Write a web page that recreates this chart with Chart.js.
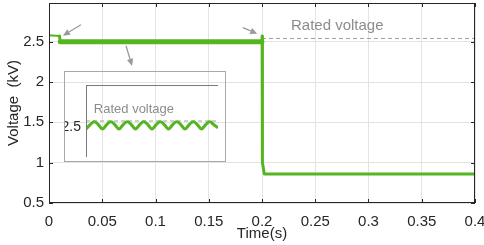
<!DOCTYPE html>
<html>
<head>
<meta charset="utf-8">
<script src="https://cdn.jsdelivr.net/npm/chart.js@4/dist/chart.umd.min.js"></script>
<style>
  html, body { margin: 0; padding: 0; background: #fff; }
  #wrap { position: relative; width: 484px; height: 245px; }
  #main { position: absolute; left: 0; top: 0; }
  #insetBox { position: absolute; left: 64px; top: 71px; width: 162px; height: 91px;
              border: 1px solid #a8a8a8; box-sizing: border-box; }
  #inset { position: absolute; left: 0; top: 0; }
</style>
</head>
<body>
<div id="wrap">
  <canvas id="main" width="484" height="245"></canvas>
  <div id="insetBox"><canvas id="inset" width="160" height="89"></canvas></div>
</div>
<script>
/* Voltage step: ~2.5 kV rated until 0.2 s, then drops to ~0.86 kV. Inset = ripple around 2.5 kV. */
const timeS   = [0, 0.0098, 0.0106, 0.1999, 0.2001, 0.2004, 0.2022, 0.4];
const voltKV  = [2.58, 2.57, 2.50, 2.50, 2.57, 1.00, 0.86, 0.86];
const ratedT  = [0.2, 0.4];
const ratedKV = [2.54, 2.54];
const xTicks  = [0, 0.05, 0.1, 0.15, 0.2, 0.25, 0.3, 0.35, 0.4];
const yTicks  = [0.5, 1, 1.5, 2, 2.5];

// inset: ripple samples (index axis) + rated level
const rippleKV = [2.487, 2.515, 2.535, 2.515, 2.487, 2.515, 2.535, 2.515, 2.487, 2.515, 2.535,
                  2.515, 2.487, 2.515, 2.535, 2.515, 2.487, 2.515, 2.535, 2.515, 2.487, 2.515,
                  2.535, 2.515, 2.487, 2.515, 2.535, 2.515, 2.487, 2.515, 2.535, 2.515, 2.495];
const insetRated = [2.54, 2.54];
const insetYTicks = [2.5];

const GREEN = "#55b521";
const INK = "#262626";
const GREY_TXT = "#8c8c8c";
const FONT = "'Liberation Sans', Arial, sans-serif";

// annotation arrows, in data coordinates [t, kV]
const ARROWS = [
  { from: [0.0300, 2.71], to: [0.0131, 2.575] },
  { from: [0.0723, 2.45], to: [0.0780, 2.20] },
  { from: [0.1820, 2.675], to: [0.1955, 2.60] },
];

const pts = (xs, ys) => xs.map((x, i) => ({ x, y: ys[i] }));
const noPad = s => { s.paddingLeft = 0; s.paddingRight = 0; s.paddingTop = 0; s.paddingBottom = 0; };

function seg(ctx, x1, y1, x2, y2) { ctx.beginPath(); ctx.moveTo(x1, y1); ctx.lineTo(x2, y2); ctx.stroke(); }

const frame = {
  id: "frame",
  afterDatasetsDraw(chart) {
    const { ctx, chartArea: a, scales: { x, y } } = chart;
    ctx.save();
    ctx.strokeStyle = INK; ctx.lineWidth = 1;
    ctx.strokeRect(a.left + 0.5, a.top + 0.5, a.right - a.left - 1, a.bottom - a.top - 1);
    xTicks.forEach(v => {
      const px = Math.round(x.getPixelForValue(v)) + 0.5;
      seg(ctx, px, a.top, px, a.top + 4); seg(ctx, px, a.bottom, px, a.bottom - 4);
    });
    yTicks.forEach(v => {
      const py = Math.round(y.getPixelForValue(v)) + 0.5;
      seg(ctx, a.left, py, a.left + 4, py); seg(ctx, a.right, py, a.right - 4, py);
    });
    // annotations
    ctx.fillStyle = GREY_TXT;
    ctx.font = "15px " + FONT;
    ctx.textBaseline = "middle"; ctx.textAlign = "left";
    ctx.fillText("Rated voltage", x.getPixelForValue(0.2272), y.getPixelForValue(2.70));
    ctx.strokeStyle = "#9a9a9a"; ctx.fillStyle = "#9a9a9a"; ctx.lineWidth = 1.3;
    ARROWS.forEach(ar => {
      const x1 = x.getPixelForValue(ar.from[0]), y1 = y.getPixelForValue(ar.from[1]);
      const x2 = x.getPixelForValue(ar.to[0]), y2 = y.getPixelForValue(ar.to[1]);
      const ang = Math.atan2(y2 - y1, x2 - x1), L = 7, W = 3.2;
      const bx = x2 - L * Math.cos(ang), by = y2 - L * Math.sin(ang);
      seg(ctx, x1, y1, bx, by);
      ctx.beginPath();
      ctx.moveTo(x2, y2);
      ctx.lineTo(bx + W * Math.sin(ang), by - W * Math.cos(ang));
      ctx.lineTo(bx - W * Math.sin(ang), by + W * Math.cos(ang));
      ctx.closePath(); ctx.fill();
    });
    ctx.restore();
  },
};

new Chart(document.getElementById("main"), {
  type: "line",
  data: {
    datasets: [
      { data: pts(timeS, voltKV), borderColor: GREEN, borderWidth: 3, pointRadius: 0,
        borderJoinStyle: "round", borderCapStyle: "round",
        segment: { borderWidth: c => c.p0DataIndex === 0 ? 2 : c.p0DataIndex === 2 ? 5 : 3 } },
      { data: pts(ratedT, ratedKV), borderColor: "#a0a0a0", borderWidth: 1, borderDash: [4, 3], pointRadius: 0 },
    ],
  },
  options: {
    responsive: false, animation: false,
    layout: { padding: { left: 0, right: 9, top: 3, bottom: 0 } },
    plugins: { legend: { display: false }, tooltip: { enabled: false } },
    scales: {
      x: {
        type: "linear", min: 0, max: 0.4,
        afterBuildTicks: s => { s.ticks = xTicks.map(v => ({ value: v })); },
        afterFit: s => { s.height = 42; noPad(s); },
        grid: { color: "#e3e3e3", drawTicks: false },
        border: { display: false },
        ticks: { padding: 10, color: INK, font: { family: FONT, size: 15 }, maxRotation: 0,
                 callback: v => String(+v.toFixed(2)) },
        title: { display: true, text: "Time(s)", color: INK, font: { family: FONT, size: 15 },
                 padding: { top: 0, bottom: 2 } },
      },
      y: {
        type: "linear", min: 0.5, max: 2.98,
        afterBuildTicks: s => { s.ticks = yTicks.map(v => ({ value: v })); },
        afterFit: s => { s.width = 49; noPad(s); },
        grid: { color: "#e3e3e3", drawTicks: false },
        border: { display: false },
        ticks: { padding: 5, color: INK, font: { family: FONT, size: 15 }, callback: v => String(v) },
        title: { display: true, text: "Voltage  (kV)", color: INK, font: { family: FONT, size: 15 },
                 padding: { top: 5, bottom: 0 } },
      },
    },
  },
  plugins: [frame],
});

/* ---- inset: zoom on the ripple ---- */
const insetFrame = {
  id: "insetFrame",
  afterDatasetsDraw(chart) {
    const { ctx, chartArea: a, scales: { x, y } } = chart;
    ctx.save();
    ctx.strokeStyle = "#7a7a7a"; ctx.lineWidth = 1;
    seg(ctx, a.left + 0.5, a.top + 0.5, a.left + 0.5, a.bottom);
    seg(ctx, a.left, a.top + 0.5, a.right, a.top + 0.5);
    ctx.fillStyle = GREY_TXT; ctx.font = "13px " + FONT;
    ctx.textBaseline = "middle"; ctx.textAlign = "left";
    ctx.fillText("Rated voltage", x.getPixelForValue(1.9), y.getPixelForValue(2.62));
    ctx.restore();
  },
};

new Chart(document.getElementById("inset"), {
  type: "line",
  data: {
    datasets: [
      { data: rippleKV.map((v, i) => ({ x: i, y: v })), borderColor: GREEN, borderWidth: 3,
        pointRadius: 0, tension: 0.4 },
      { data: pts([0, rippleKV.length - 1], insetRated), borderColor: "#a0a0a0", borderWidth: 1,
        borderDash: [4, 3], pointRadius: 0 },
    ],
  },
  options: {
    responsive: false, animation: false,
    layout: { padding: { left: 0, right: 7, top: 13, bottom: 4 } },
    plugins: { legend: { display: false }, tooltip: { enabled: false } },
    scales: {
      x: { type: "linear", min: 0, max: rippleKV.length - 1, display: false },
      y: {
        type: "linear", min: 2.3, max: 2.78,
        afterBuildTicks: s => { s.ticks = insetYTicks.map(v => ({ value: v })); },
        afterFit: s => { s.width = 21; noPad(s); },
        grid: { display: false, drawTicks: false },
        border: { display: false },
        ticks: { padding: 5, color: INK, font: { family: FONT, size: 14 }, callback: v => String(v) },
      },
    },
  },
  plugins: [insetFrame],
});
</script>
</body>
</html>
